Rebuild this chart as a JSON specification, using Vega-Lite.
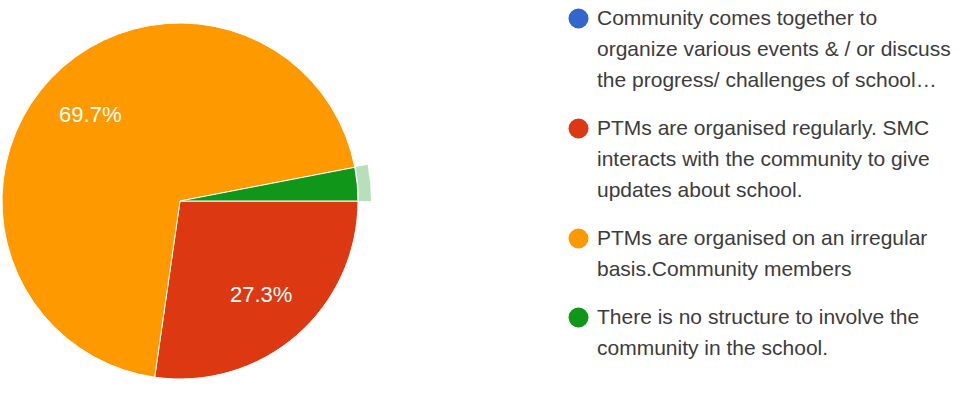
{
  "$schema": "https://vega.github.io/schema/vega-lite/v6.json",
  "width": 360,
  "height": 402,
  "padding": 0,
  "background": "#ffffff",
  "config": {"view": {"stroke": null}, "style": {"guide-label": {"lineHeight": 31, "dy": -11}}},
  "data": {
    "values": [
      {"cat": "Community comes together to\norganize various events & / or discuss\nthe progress/ challenges of school…", "n": 0, "k": 1, "pct": ""},
      {"cat": "PTMs are organised regularly. SMC\ninteracts with the community to give\nupdates about school.", "n": 9, "k": 2, "pct": "27.3%"},
      {"cat": "PTMs are organised on an irregular\nbasis.Community members", "n": 23, "k": 3, "pct": "69.7%"},
      {"cat": "There is no structure to involve the\ncommunity in the school.", "n": 1, "k": 4, "pct": ""}
    ]
  },
  "transform": [{"stack": "n", "groupby": [], "sort": [{"field": "k"}], "as": ["t0", "t1"]}],
  "layer": [
    {
      "mark": {"type": "arc", "radius": 178, "stroke": "#ffffff", "strokeWidth": 1},
      "encoding": {
        "theta": {"field": "t0", "type": "quantitative", "scale": {"range": [1.5707963, 7.8539816]}},
        "theta2": {"field": "t1"},
        "color": {
          "field": "cat",
          "type": "nominal",
          "sort": null,
          "scale": {"range": ["#3366cc", "#dc3912", "#ff9900", "#109618"]},
          "legend": {
            "title": null,
            "orient": "none",
            "legendX": 568,
            "legendY": 8,
            "symbolType": "circle",
            "symbolSize": 400,
            "symbolStrokeWidth": 0,
            "symbolOpacity": 1,
            "labelFont": "Liberation Sans",
            "labelFontSize": 21,
            "labelColor": "#3c3c3c",
            "labelOffset": 8,
            "labelLimit": 500,
            "rowPadding": 26,
            "labelBaseline": "top",
            "labelExpr": "split(datum.label, '\\n')"
          }
        }
      }
    },
    {
      "transform": [{"filter": "datum.k === 4"}],
      "mark": {"type": "arc", "radius": 191, "radius2": 179, "opacity": 0.3},
      "encoding": {
        "theta": {"field": "t0", "type": "quantitative"},
        "theta2": {"field": "t1"},
        "color": {"field": "cat", "type": "nominal", "sort": null}
      }
    },
    {
      "mark": {"type": "text", "radius": 124, "fontSize": 22, "font": "Liberation Sans", "color": "#ffffff"},
      "encoding": {
        "theta": {"field": "n", "type": "quantitative", "stack": true},
        "order": {"field": "k", "type": "quantitative"},
        "text": {"field": "pct"}
      }
    }
  ]
}
